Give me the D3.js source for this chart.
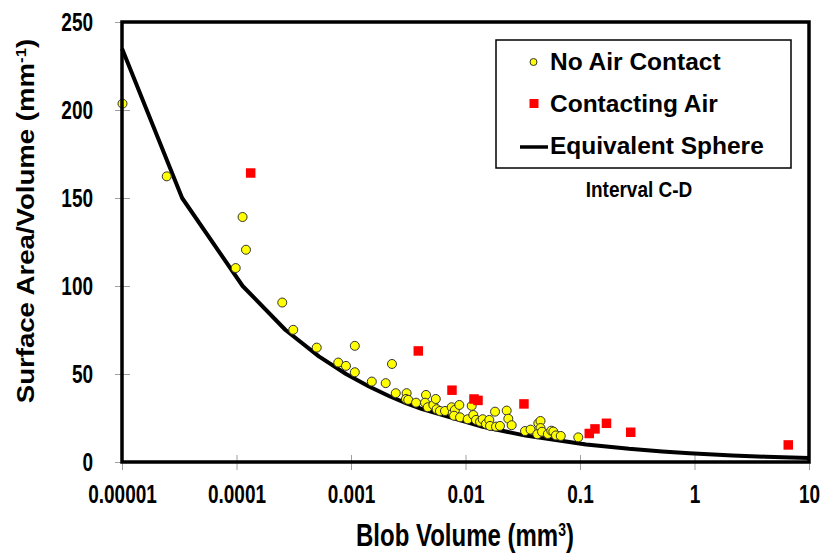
<!DOCTYPE html>
<html>
<head>
<meta charset="utf-8">
<script src="https://cdn.jsdelivr.net/npm/d3@7"></script>
<style>
  html, body { margin: 0; padding: 0; background: #fff; }
  svg { display: block; }
  text { font-family: "Liberation Sans", Arial, Helvetica, sans-serif; font-weight: bold; fill: #000; }
</style>
</head>
<body>
<svg id="chart" width="825" height="553"></svg>
<script>
// ---- Data ----
const yellowVol = [1.01e-5, 2.46e-5, 9.84e-5, 1.13e-4, 1.21e-4, 2.51e-4, 3.13e-4, 5.02e-4, 1.08e-3, 7.74e-4,
  9.04e-4, 1.08e-3, 1.52e-3, 2.01e-3, 2.28e-3, 2.46e-3, 3.06e-3, 3.02e-3, 3.16e-3, 3.70e-3,
  4.52e-3, 4.43e-3, 4.68e-3, 5.24e-3, 5.50e-3, 5.60e-3, 5.98e-3, 6.62e-3, 7.57e-3, 7.73e-3,
  8.09e-3, 7.94e-3, 8.83e-3, 8.96e-3, 0.01045, 0.01133, 0.01170, 0.01235, 0.01339, 0.01413,
  0.01510, 0.01614, 0.01637, 0.01846, 0.01811, 0.02000, 0.02290, 0.02365, 0.02531, 0.03311,
  0.03700, 0.04325, 0.04519, 0.04519, 0.04236, 0.04656, 0.05236, 0.05610, 0.05848, 0.06166,
  0.06792, 0.09661];
const yellowSAV = [203.6, 162.3, 110.2, 139.2, 120.6, 90.6, 75.1, 65.0, 66.0, 56.5,
  54.6, 51.0, 45.7, 44.8, 55.7, 39.1, 39.1, 35.8, 35.3, 33.7,
  38.1, 33.7, 31.1, 32.4, 35.8, 30.0, 29.0, 29.0, 31.1, 27.7,
  29.6, 26.3, 32.4, 25.4, 24.3, 31.9, 26.7, 23.9, 22.9, 24.3,
  21.6, 23.9, 20.5, 20.1, 28.6, 20.5, 29.2, 24.6, 20.9, 17.6,
  18.4, 22.0, 23.3, 19.3, 15.8, 17.2, 15.9, 17.8, 17.3, 15.1,
  14.8, 14.0];

const redVol = [1.33e-4, 3.87e-3, 7.62e-3, 0.01186, 0.01286, 0.0324, 0.1205, 0.1352, 0.1703, 0.2773, 6.59];
const redSAV = [164.2, 63.1, 40.8, 35.8, 35.0, 33.0, 16.2, 18.8, 22.0, 16.9, 9.7];

const sphereVol = [1e-5, 3.35e-5, 1.131e-4, 2.68e-4, 5.24e-4, 9.05e-4, 1.437e-3, 2.145e-3, 3.054e-3, 4.189e-3,
  1.414e-2, 3.351e-2, 0.1131, 0.2681, 0.5236, 0.9048, 2.145, 4.189, 10];
const sphereSAV = [235, 150, 100, 75, 60, 50, 42.9, 37.5, 33.3, 30,
  20, 15, 10, 7.5, 6, 5, 3.75, 3, 2.25];

const xTicks = [1e-5, 1e-4, 1e-3, 0.01, 0.1, 1, 10];
const xTickLabels = ["0.00001", "0.0001", "0.001", "0.01", "0.1", "1", "10"];
const yTicks = [0, 50, 100, 150, 200, 250];

const seriesNames = ["No Air Contact", "Contacting Air", "Equivalent Sphere"];

// ---- Layout ----
const L = 122, R = 809, T = 22, B = 462;
const svg = d3.select("#chart");

const x = d3.scaleLog().domain([1e-5, 10]).range([L, R]);
const y = d3.scaleLinear().domain([0, 250]).range([B, T]);

// Y axis
const yAxis = svg.append("g").attr("transform", `translate(${L},0)`)
  .call(d3.axisLeft(y).tickValues(yTicks).tickSize(7).tickPadding(22).tickFormat(d3.format("d")));
yAxis.select(".domain").remove();
yAxis.selectAll(".tick line").attr("x1", 8).attr("stroke", "#a0a0a0").attr("stroke-width", 1);
yAxis.selectAll(".tick text")
  .attr("font-size", 19).attr("font-family", null)
  .attr("transform", "scale(1,1.38)");

// X axis
const xAxis = svg.append("g").attr("transform", `translate(0,${B})`)
  .call(d3.axisBottom(x).tickValues(xTicks).tickSize(8).tickFormat((d, i) => xTickLabels[i]));
xAxis.select(".domain").remove();
xAxis.selectAll(".tick line").attr("y1", -7).attr("stroke", "#a0a0a0").attr("stroke-width", 1);
xAxis.selectAll(".tick text")
  .attr("font-size", 19).attr("font-family", null)
  .attr("y", 29.5).attr("dy", 0)
  .attr("transform", "scale(1,1.38)");

// Equivalent sphere curve
const line = d3.line().x(d => x(d[0])).y(d => y(d[1]));
svg.append("path")
  .datum(sphereVol.map((v, i) => [v, sphereSAV[i]]))
  .attr("d", line)
  .attr("fill", "none").attr("stroke", "#000").attr("stroke-width", 4)
  .attr("stroke-linejoin", "round");

// No Air Contact points
svg.append("g").selectAll("circle")
  .data(yellowVol.map((v, i) => [v, yellowSAV[i]]))
  .join("circle")
  .attr("cx", d => x(d[0])).attr("cy", d => y(d[1])).attr("r", 4.5)
  .attr("fill", "#ffff00").attr("stroke", "#333").attr("stroke-width", 1);

// Contacting Air points
const sq = 9.5;
svg.append("g").selectAll("rect")
  .data(redVol.map((v, i) => [v, redSAV[i]]))
  .join("rect")
  .attr("x", d => x(d[0]) - sq / 2).attr("y", d => y(d[1]) - sq / 2)
  .attr("width", sq).attr("height", sq)
  .attr("fill", "#ff0000");

// Frame
svg.append("rect")
  .attr("x", L).attr("y", T).attr("width", R - L).attr("height", B - T)
  .attr("fill", "none").attr("stroke", "#000").attr("stroke-width", 3.5);

// Legend
const lg = svg.append("g");
lg.append("rect").attr("x", 496).attr("y", 40).attr("width", 295).attr("height", 128)
  .attr("fill", "#fff").attr("stroke", "#000").attr("stroke-width", 1.5);
lg.append("circle").attr("cx", 533.5).attr("cy", 62).attr("r", 3.5)
  .attr("fill", "#ffff00").attr("stroke", "#333").attr("stroke-width", 1);
lg.append("rect").attr("x", 529.5).attr("y", 99).attr("width", 9).attr("height", 9).attr("fill", "#ff0000");
lg.append("line").attr("x1", 520).attr("x2", 548).attr("y1", 147).attr("y2", 147)
  .attr("stroke", "#000").attr("stroke-width", 3.5);
const ly = [70, 112, 154];
seriesNames.forEach((n, i) => {
  lg.append("text").attr("x", 550).attr("y", ly[i]).attr("font-size", 24.5).text(n);
});

// Interval note
svg.append("text").attr("transform", "translate(639,197) scale(1,1.15)")
  .attr("text-anchor", "middle").attr("font-size", 19).text("Interval C-D");

// Axis titles
const xt = svg.append("text").attr("transform", "translate(465,546) scale(1,1.3)")
  .attr("text-anchor", "middle").attr("font-size", 24);
xt.append("tspan").text("Blob Volume (mm");
xt.append("tspan").attr("font-size", 14).attr("dy", -8).text("3");
xt.append("tspan").attr("dy", 8).text(")");

const yt = svg.append("text").attr("transform", "translate(34,221) rotate(-90) scale(1.2,1)")
  .attr("text-anchor", "middle").attr("font-size", 23);
yt.append("tspan").text("Surface Area/Volume (mm");
yt.append("tspan").attr("font-size", 14).attr("dy", -8).text("-1");
yt.append("tspan").attr("dy", 8).text(")");
</script>
</body>
</html>
